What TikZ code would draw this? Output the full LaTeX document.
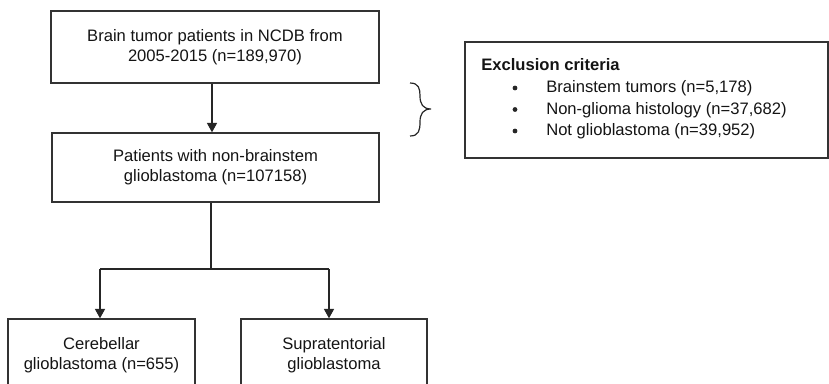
\documentclass[tikz,border=0pt]{standalone}
\usepackage{fontspec}
\setmainfont{Liberation Sans}
\usetikzlibrary{arrows.meta}
\begin{document}
\begin{tikzpicture}[x=0.75pt,y=-0.75pt,
  every node/.style={font=\fontsize{12.45pt}{15pt}\selectfont, text=black!92},
  flowbox/.style={draw=black!80, line width=1pt, inner sep=0pt, align=center},
  conn/.style={draw=black!85, line width=0.85pt},
  arr/.style={conn, -{Triangle[width=7.5pt,length=7pt]}},
  dot/.style={circle, fill=black!85, inner sep=0pt, minimum size=3.6pt},
  lbl/.style={inner sep=0pt, anchor=base west}]
\useasboundingbox (0,0) rectangle (829,384);
\begin{scope}
\clip (0,0) rectangle (829,384);
\node[flowbox, minimum width=246pt, minimum height=54pt] (b1) at (215,47)
  {Brain tumor patients in NCDB from\\2005-2015 (n=189,970)};
\node[flowbox, minimum width=245.25pt, minimum height=51.75pt] (b2) at (215.5,167.5)
  {Patients with non-brainstem\\glioblastoma (n=107158)};
\node[flowbox, minimum width=140.25pt, minimum height=54pt] (b3) at (101.5,355)
  {Cerebellar\\glioblastoma (n=655)};
\node[flowbox, minimum width=139.5pt, minimum height=54pt] (b4) at (334,355)
  {Supratentorial\\glioblastoma};
\node[flowbox, minimum width=272.25pt, minimum height=87pt] (ex) at (646.5,100) {};

\coordinate (a1) at (212,0);
\coordinate (j) at (211,269);
\coordinate (jl) at (100,269);
\coordinate (jr) at (329,269);

\draw[arr] (a1 |- b1.south) -- (a1 |- b2.north);
\draw[conn] (j |- b2.south) -- (j);
\draw[conn] (jl) -- (jr);
\draw[arr] (jl) -- (jl |- b3.north);
\draw[arr] (jr) -- (jr |- b4.north);

% brace
\draw[conn, line width=0.9pt] (410,83) .. controls (419,83) and (420,89) .. (420,96)
  .. controls (420,104) and (423,109) .. (431,109)
  .. controls (423,109) and (420,114) .. (420,122)
  .. controls (420,130) and (419,136) .. (410,136);

% exclusion text
\node[lbl, font=\fontsize{12.45pt}{15pt}\selectfont\bfseries] (t0) at (481,71) {Exclusion criteria};
\node[dot] (d1) at (515,88) {};
\node[dot] (d2) at (515,109.5) {};
\node[dot] (d3) at (515,131) {};
\node[lbl] (t1) at (546,93) {Brainstem tumors (n=5,178)};
\node[lbl] (t2) at (546,114.5) {Non-glioma histology (n=37,682)};
\node[lbl] (t3) at (546,136) {Not glioblastoma (n=39,952)};
\end{scope}
\end{tikzpicture}
\end{document}
